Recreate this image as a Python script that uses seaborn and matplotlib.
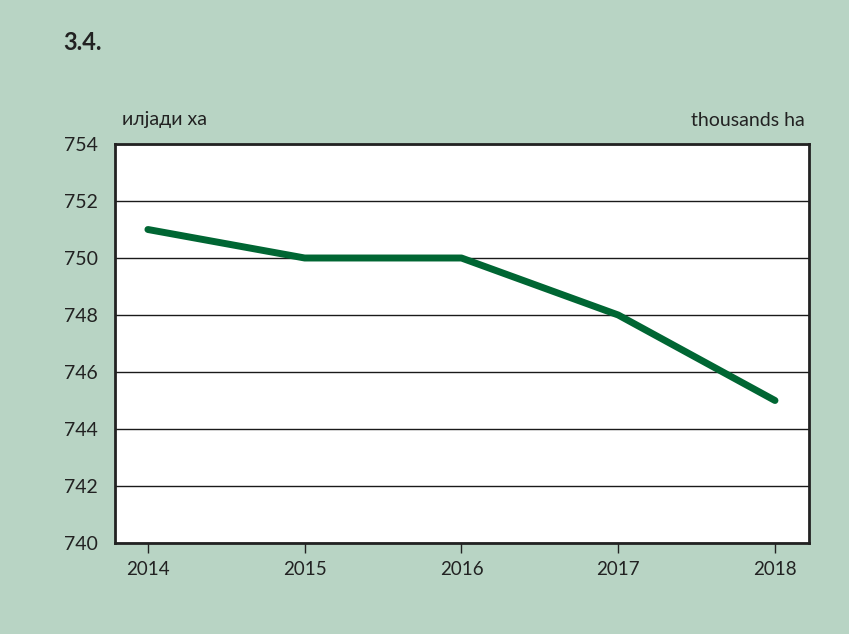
import matplotlib
matplotlib.use("Agg")
import matplotlib.pyplot as plt
import seaborn as sns
import pandas as pd

years = [2014, 2015, 2016, 2017, 2018]
values = [751, 750, 750, 748, 745]
yticks = [740, 742, 744, 746, 748, 750, 752, 754]

bg = "#b8d4c4"
line_color = "#006633"
text_color = "#222222"

sns.set_theme(style="white")
plt.rcParams['font.family'] = ['Lato', 'DejaVu Sans']

fig = plt.figure(figsize=(8.49, 6.34), dpi=100, facecolor=bg)
ax = fig.add_axes([115/849, 1-543/634, (809-115)/849, (543-144)/634])
ax.set_facecolor("white")

df = pd.DataFrame({"year": years, "value": values})
sns.lineplot(data=df, x="year", y="value", ax=ax, color=line_color,
             linewidth=5, solid_capstyle="round", solid_joinstyle="round", zorder=3)

ax.set_xlim(2014 - 0.21, 2018 + 0.217)
ax.set_ylim(740, 754)
ax.set_yticks(yticks)
ax.set_xticks(years)
ax.set_xticklabels([str(y) for y in years])
ax.set_xlabel("")
ax.set_ylabel("")
ax.grid(axis="y", color="#1a1a1a", linewidth=1.0)
ax.grid(axis="x", visible=False)
for s in ax.spines.values():
    s.set_color("#222222")
    s.set_linewidth(2)
ax.tick_params(axis="x", direction="out", length=7, width=1, color="#222222",
               labelsize=13.5, labelcolor=text_color, pad=6, bottom=True)
ax.tick_params(axis="y", length=0, labelsize=14, labelcolor=text_color)
for lbl in ax.get_yticklabels():
    lbl.set_horizontalalignment("left")
ax.yaxis.set_tick_params(pad=37)

fig.text(63/849, 1-42/634, "3.4.", fontsize=17, fontweight="bold",
         color=text_color, ha="left", va="center")
fig.text(122/849, 1-120/634, "илјади ха", fontsize=14, color=text_color,
         ha="left", va="center")
fig.text(805/849, 1-121/634, "thousands ha", fontsize=14, color=text_color,
         ha="right", va="center")

fig.savefig("out.png", dpi=100, facecolor=bg)
